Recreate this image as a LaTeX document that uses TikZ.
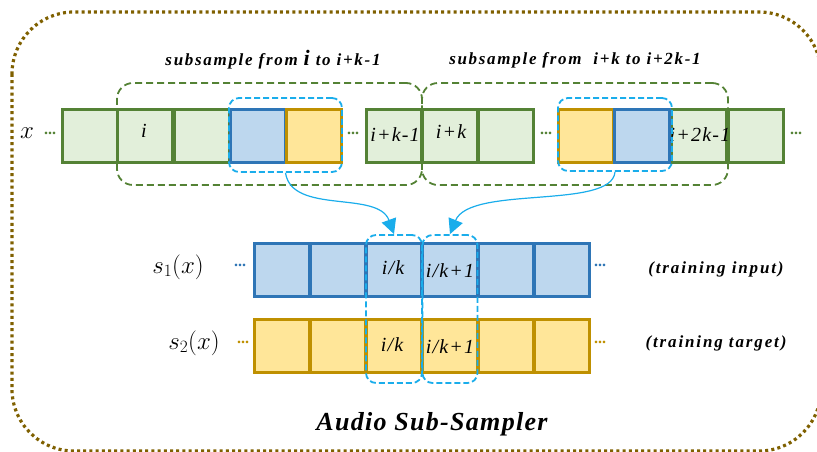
\documentclass[tikz,border=0pt]{standalone}
\usepackage{fontspec}
\setmainfont{Liberation Serif}
\usetikzlibrary{arrows.meta}
\definecolor{gline}{HTML}{548235}
\definecolor{gfill}{HTML}{E2EFDA}
\definecolor{bline}{HTML}{2E75B6}
\definecolor{bfill}{HTML}{BDD7EE}
\definecolor{yline}{HTML}{BF9000}
\definecolor{yfill}{HTML}{FFE699}
\definecolor{cyanline}{HTML}{1AADEB}
\definecolor{frameline}{HTML}{7F6000}
\begin{document}
\begin{tikzpicture}[x=1pt,y=-1pt,
  cellbase/.style={rectangle,inner sep=0pt,minimum width=55pt,minimum height=53pt,line width=3pt},
  gcell/.style={cellbase,draw=gline,fill=gfill},
  bcell/.style={cellbase,draw=bline,fill=bfill},
  ycell/.style={cellbase,draw=yline,fill=yfill},
  groupbox/.style={draw=gline,line width=1.8pt,dash pattern=on 7pt off 4pt,rounded corners=16pt},
  pickbox/.style={draw=cyanline,line width=1.8pt,dash pattern=on 6pt off 3pt,rounded corners=10pt},
  link/.style={draw=cyanline,line width=1.2pt,-{Triangle[length=15pt,width=15pt]}},
  celltext/.style={font=\fontsize{20}{20}\selectfont\itshape\addfontfeature{LetterSpace=6}},
  note/.style={font=\fontsize{17}{17}\selectfont\bfseries\itshape\addfontfeature{LetterSpace=10}},
  gap/.style={font=\fontsize{16}{16}\selectfont\bfseries}
]
\useasboundingbox (0,0) rectangle (817,452);

% outer dotted frame
\draw[frameline,line width=3.2pt,dash pattern=on 3pt off 3.2pt,rounded corners=62pt]
  (12,12) rectangle (821,451);

% input sequence x
\node[gcell] (a1) at (89.5,136) {};
\node[gcell] (a2) at (145,136) {};
\node[gcell] (a3) at (201.5,136) {};
\node[gcell] (a6) at (394,136) {};
\node[gcell] (a7) at (450,136) {};
\node[gcell] (a8) at (506,136) {};
\node[gcell] (a11) at (698.5,136) {};
\node[gcell] (a12) at (755.5,136) {};
\node[bcell] (a4) at (258,136) {};
\node[ycell] (a5) at (313.5,136) {};
\node[ycell] (a9) at (586,136) {};
\node[bcell] (a10) at (642,136) {};

\node[celltext] at (144,131) {i};
\node[celltext] at (395,135) {i+k-1};
\node[celltext] at (451,132) {i+k};
\node[celltext] at (700,135) {i+2k-1};

\node[font=\fontsize{23}{23}\selectfont] (xlab) at (27,133) {$x$};
\node[gap,text=gline] (d0) at (50,133) {...};
\node[gap,text=gline] (d1) at (353,133) {...};
\node[gap,text=gline] (d2) at (546,133) {...};
\node[gap,text=gline] (d3) at (796,133) {...};

% subsampling windows
\node[groupbox,minimum width=305pt,minimum height=102pt] (w1) at (269.5,134) {};
\node[groupbox,minimum width=306pt,minimum height=102pt] (w2) at (575,134) {};
\node[note] at (273,60) {subsample from {\fontsize{22}{22}\selectfont i} to i+k-1};
\node[note] at (575,60) {subsample from\ \ i+k to i+2k-1};

% picked samples
\node[pickbox,minimum width=113pt,minimum height=74pt] (p1) at (285.5,135) {};
\node[pickbox,minimum width=114pt,minimum height=73pt] (p2) at (615,134.5) {};

% sub-sampled sequences
\foreach \i/\cx in {1/282,2/338,3/394,4/450,5/506,6/562}{
  \node[bcell] (s\i) at (\cx,270) {};
  \node[ycell] (t\i) at (\cx,346) {};
}
\node[celltext] at (393,268) {i/k};
\node[celltext] at (450,271) {i/k+1};
\node[celltext] at (392,345) {i/k};
\node[celltext] at (450,347) {i/k+1};

\node[font=\fontsize{25}{25}\selectfont] (s1lab) at (178,267) {$s_1(x)$};
\node[font=\fontsize{25}{25}\selectfont] (s2lab) at (194,343) {$s_2(x)$};
\node[gap,text=bline] at (240,265) {...};
\node[gap,text=yline] at (243,342) {...};
\node[gap,text=bline] at (600,265) {...};
\node[gap,text=yline] at (600,342) {...};

\node[note,font=\fontsize{17}{17}\selectfont\bfseries\itshape\addfontfeature{LetterSpace=11}] at (716,269) {(training input)};
\node[note,font=\fontsize{17}{17}\selectfont\bfseries\itshape\addfontfeature{LetterSpace=11}] at (716,343) {(training target)};

% output columns
\node[pickbox,minimum width=56pt,minimum height=148pt] (q1) at (394,309) {};
\node[pickbox,minimum width=55pt,minimum height=148pt] (q2) at (450,309) {};

% connectors
\path[link] (p1.south) coordinate (c1)
  (c1) .. controls (292,215) and (378,190) .. (q1.north);
\path[link] (p2.south) coordinate (c2)
  (c2) .. controls (612,210) and (470,185) .. (q2.north);

\node[font=\fontsize{26}{26}\selectfont\bfseries\itshape\addfontfeature{LetterSpace=5}] (title) at (432,424) {Audio Sub-Sampler};
\end{tikzpicture}
\end{document}
